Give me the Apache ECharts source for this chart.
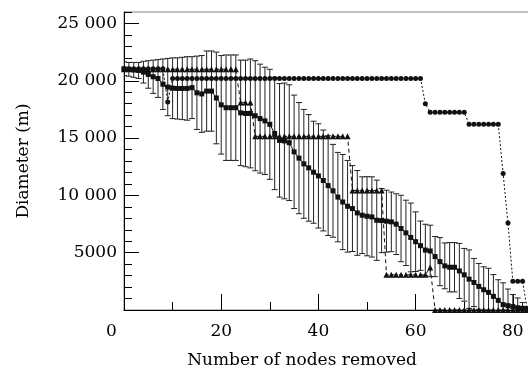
<!DOCTYPE html>
<html>
<head>
<meta charset="utf-8">
<script src="https://cdn.jsdelivr.net/npm/echarts@6/dist/echarts.min.js"></script>
<style>
  html, body { margin: 0; padding: 0; background: #fff; }
  #chart { width: 528px; height: 370px; }
</style>
</head>
<body>
<div id="chart"></div>
<script>
// ---- data ----
const nodesRemoved = [
  0,1,2,3,4,5,6,7,8,9,10,11,12,13,14,15,16,17,18,19,
  20,21,22,23,24,25,26,27,28,29,30,31,32,33,34,35,36,37,38,39,
  40,41,42,43,44,45,46,47,48,49,50,51,52,53,54,55,56,57,58,59,
  60,61,62,63,64,65,66,67,68,69,70,71,72,73,74,75,76,77,78,79,
  80,81,82,83
];
// mean diameter (squares) with error bars (+/- sd)
const meanDiameter = [
  21050,21000,20950,20900,20750,20550,20350,20200,19700,19450,
  19350,19330,19330,19330,19400,18950,18850,19100,19100,18500,
  17900,17650,17650,17650,17200,17150,17150,16950,16700,16500,
  16200,15400,14800,14750,14600,13800,13250,12750,12400,12020,
  11700,11300,10850,10400,9850,9420,9050,8850,8470,8270,
  8180,8120,7830,7800,7750,7690,7490,7110,6730,6330,
  5960,5610,5230,5150,4660,4220,3850,3730,3730,3410,
  3070,2690,2400,2060,1770,1540,1190,840,470,380,
  300,200,150,100
];
const sdDiameter = [
  600,600,650,700,950,1200,1450,1650,2200,2500,
  2650,2670,2720,2770,2700,3200,3350,3500,3500,4000,
  4300,4600,4600,4600,4600,4650,4750,4800,4750,4680,
  4800,4900,4950,5050,5050,4950,4850,4750,4650,4450,
  4550,4400,4350,4050,3900,4150,4000,3750,3700,3350,
  3450,3500,3500,2800,2700,2600,2650,2900,2850,3000,
  2600,2150,2250,2250,1750,2100,2000,2150,2150,2400,
  2300,2550,2100,2000,2000,2100,1900,1800,1900,1450,
  1050,850,500,200
];
// circles (dotted line)
const circleDiameter = [
  21050,21050,21050,21050,21050,21050,21050,21050,21050,18150,
  20200,20200,20200,20200,20200,20200,20200,20200,20200,20200,
  20200,20200,20200,20200,20200,20200,20200,20200,20200,20200,
  20200,20200,20200,20200,20200,20200,20200,20200,20200,20200,
  20200,20200,20200,20200,20200,20200,20200,20200,20200,20200,
  20200,20200,20200,20200,20200,20200,20200,20200,20200,20200,
  20200,20200,18000,17250,17250,17250,17250,17250,17250,17250,
  17250,16200,16200,16200,16200,16200,16200,16200,11900,7600,
  2500,2500,2500,0
];
// triangles (dashed line)
const triangleDiameter = [
  21000,21000,21000,21000,21000,21000,21000,21000,21000,21000,
  21000,21000,21000,21000,21000,21000,21000,21000,21000,21000,
  21000,21000,21000,21000,18100,18100,18100,15150,15150,15150,
  15150,15150,15150,15150,15150,15150,15150,15150,15150,15150,
  15150,15150,15150,15150,15150,15150,15150,10430,10430,10430,
  10430,10430,10430,10430,3070,3070,3070,3070,3070,3070,3070,
  3070,3070,3700,0,0,0,0,0,0,0,
  0,0,0,0,0,0,0,0,0,0,
  0,0,0
];
const xTickValues = [0, 20, 40, 60, 80];
const xTickLabels = ['0', '20', '40', '60', '80'];
const yTickValues = [5000, 10000, 15000, 20000, 25000];
const yTickLabels = ['5000', '10 000', '15 000', '20 000', '25 000'];

// ---- chart ----
const FONT = 'DejaVu Serif';
const FS = 17;
const chart = echarts.init(document.getElementById('chart'), null, { renderer: 'canvas' });

const pair = (ys) => nodesRemoved.map((x, i) => [x, ys[i]]);
const errData = nodesRemoved.map((x, i) => [x, meanDiameter[i] - sdDiameter[i], meanDiameter[i] + sdDiameter[i]]);

const option = {
  animation: false,
  backgroundColor: '#fff',
  grid: {
    left: 124, top: 12, bottom: 60, right: -14,
    outerBoundsMode: 'none', containLabel: false,
    show: true, borderColor: '#808080', borderWidth: 1, backgroundColor: 'transparent'
  },
  xAxis: [
    {
      type: 'value', min: 0, max: 86, interval: 20, position: 'bottom',
      name: 'Number of nodes removed', nameLocation: 'middle', nameGap: 42,
      nameTextStyle: { fontFamily: FONT, fontSize: FS, color: '#000', padding: [0, 62, 0, 0] },
      axisLine: { show: true, onZero: false, lineStyle: { color: '#000', width: 1 } },
      axisTick: { show: true, inside: true, length: 16, lineStyle: { color: '#000', width: 1 } },
      axisLabel: {
        show: true, margin: 13, fontFamily: FONT, fontSize: FS, color: '#000',
        showMaxLabel: false,
        formatter: (v) => {
          const k = xTickValues.indexOf(v);
          if (k < 0) return '';
          if (v === 0) return '{z|' + xTickLabels[k] + '}';
          return xTickLabels[k];
        },
        rich: { z: { fontFamily: FONT, fontSize: FS, color: '#000', padding: [0, 25, 0, 0] } }
      },
      splitLine: { show: false }
    },
    {
      type: 'value', min: 0, max: 86, interval: 10, position: 'bottom', gridIndex: 0,
      axisLine: { show: false, onZero: false },
      axisTick: { show: true, inside: true, length: 8, lineStyle: { color: '#000', width: 1 } },
      axisLabel: { show: false },
      splitLine: { show: false }
    }
  ],
  yAxis: [
    {
      type: 'value', min: 0, max: 26000, interval: 5000, position: 'left',
      name: 'Diameter (m)', nameLocation: 'middle', nameGap: 92,
      nameTextStyle: { fontFamily: FONT, fontSize: FS, color: '#000' },
      axisLine: { show: true, onZero: false, lineStyle: { color: '#000', width: 1 } },
      axisTick: { show: true, inside: true, length: 15, lineStyle: { color: '#000', width: 1 } },
      axisLabel: {
        show: true, margin: 7, fontFamily: FONT, fontSize: FS, color: '#000',
        showMaxLabel: false,
        formatter: (v) => {
          const k = yTickValues.indexOf(v);
          return k < 0 ? '' : yTickLabels[k];
        }
      },
      splitLine: { show: false }
    },
    {
      type: 'value', min: 0, max: 26000, interval: 1000, position: 'left', offset: 0,
      axisLine: { show: false, onZero: false },
      axisTick: { show: true, inside: true, length: 8, lineStyle: { color: '#000', width: 1 } },
      axisLabel: { show: false },
      splitLine: { show: false }
    }
  ],
  series: [
    {
      type: 'custom',
      name: 'sd',
      xAxisIndex: 0, yAxisIndex: 0,
      clip: true,
      data: errData,
      z: 1,
      renderItem: (params, api) => {
        const x = api.value(0);
        const lo = api.coord([x, api.value(1)]);
        const hi = api.coord([x, api.value(2)]);
        const w = 3;
        const st = { stroke: '#222', lineWidth: 1 };
        return {
          type: 'group',
          children: [
            { type: 'line', shape: { x1: lo[0], y1: lo[1], x2: hi[0], y2: hi[1] }, style: st },
            { type: 'line', shape: { x1: hi[0] - w, y1: hi[1], x2: hi[0] + w, y2: hi[1] }, style: st },
            { type: 'line', shape: { x1: lo[0] - w, y1: lo[1], x2: lo[0] + w, y2: lo[1] }, style: st }
          ]
        };
      }
    },
    {
      type: 'line', name: 'triangles', xAxisIndex: 0, yAxisIndex: 0,
      data: pair(triangleDiameter), z: 3,
      symbol: 'triangle', symbolSize: 6, showSymbol: true, showAllSymbol: true,
      itemStyle: { color: '#111' },
      lineStyle: { color: '#111', width: 1, type: [4, 3] }
    },
    {
      type: 'line', name: 'circles', xAxisIndex: 0, yAxisIndex: 0,
      data: pair(circleDiameter), z: 4,
      symbol: 'circle', symbolSize: 5, showSymbol: true, showAllSymbol: true,
      itemStyle: { color: '#111' },
      lineStyle: { color: '#111', width: 1, type: [2, 2] }
    },
    {
      type: 'line', name: 'mean', xAxisIndex: 0, yAxisIndex: 0,
      data: pair(meanDiameter), z: 5,
      symbol: 'rect', symbolSize: 5, showSymbol: true, showAllSymbol: true,
      itemStyle: { color: '#111' },
      lineStyle: { color: '#111', width: 1 }
    }
  ]
};
chart.setOption(option);
</script>
</body>
</html>
